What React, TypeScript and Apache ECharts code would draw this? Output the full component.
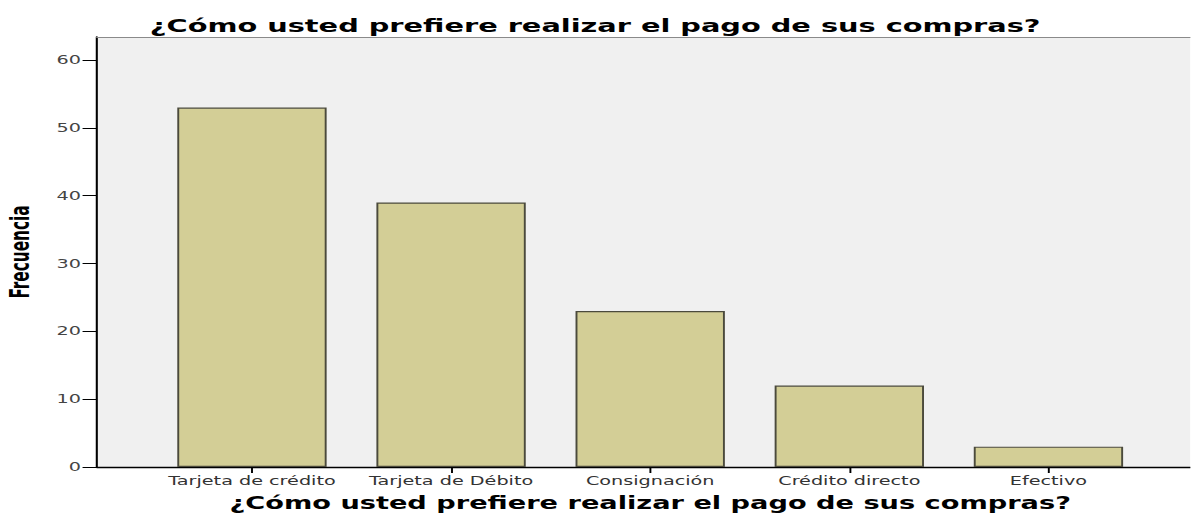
import React, { useEffect, useRef } from "react";
import * as echarts from "echarts";

const categories = ["Tarjeta de crédito", "Tarjeta de Débito", "Consignación", "Crédito directo", "Efectivo"];
const frequencies = [53, 39, 23, 12, 3];
const yTicks = [0, 10, 20, 30, 40, 50, 60];
const titleText = "¿Cómo usted prefiere realizar el pago de sus compras?";
const yName = "Frecuencia";

const STRETCH = 1.6;
const W = 1191 / STRETCH;
const H = 516;

export default function App() {
  const ref = useRef<HTMLDivElement>(null);
  useEffect(() => {
    if (!ref.current) return;
    const chart = echarts.init(ref.current, undefined, { renderer: "svg" });
    const yMax = 63.4;
    chart.setOption({
      animation: false,
      backgroundColor: "#ffffff",
      title: {
        text: titleText,
        left: "center",
        top: 12,
        textStyle: { fontFamily: "DejaVu Sans", fontSize: 18, fontWeight: "bold", color: "#000" },
      },
      grid: [
        { left: 60.6, right: 0, top: 37, bottom: 49, show: true, backgroundColor: "#f0f0f0", borderWidth: 0, outerBoundsMode: "none", containLabel: false },
        { left: 95.25, right: 26.5, top: 37, bottom: 49, outerBoundsMode: "none", containLabel: false },
      ],
      xAxis: [
        {
          gridIndex: 0, type: "value", min: 0, max: 1, position: "bottom",
          axisLine: { show: true, lineStyle: { color: "#000", width: 1.3 } },
          axisTick: { show: false }, axisLabel: { show: false }, splitLine: { show: false },
        },
        {
          gridIndex: 0, type: "value", min: 0, max: 1, position: "top",
          axisLine: { show: true, lineStyle: { color: "#8a8a8a", width: 1.2 } },
          axisTick: { show: false }, axisLabel: { show: false }, splitLine: { show: false },
        },
        {
          gridIndex: 1, type: "category", data: categories, position: "bottom",
          axisLine: { show: false },
          axisTick: { show: true, alignWithLabel: true, length: 6, lineStyle: { color: "#000", width: 1.2 } },
          axisLabel: { interval: 0, hideOverlap: false, margin: 8, fontSize: 12, fontFamily: "DejaVu Sans", color: "#333" },
          name: titleText, nameLocation: "middle", nameGap: 28,
          nameTextStyle: { fontFamily: "DejaVu Sans", fontSize: 17, fontWeight: "bold", color: "#000" },
        },
      ],
      yAxis: [
        {
          gridIndex: 0, type: "value", min: 0, max: yMax, interval: 10,
          axisLine: { show: true, lineStyle: { color: "#000", width: 1.3 } },
          axisTick: { show: true, length: 9, customValues: yTicks, lineStyle: { color: "#000", width: 1 } },
          axisLabel: { margin: 10, customValues: yTicks, fontSize: 12, fontFamily: "DejaVu Sans", color: "#444" },
          splitLine: { show: false },
          name: yName, nameLocation: "middle", nameGap: 40,
          nameTextStyle: { fontFamily: "Liberation Sans Narrow, DejaVu Sans Condensed", fontSize: 17, fontWeight: "bold", color: "#000" },
        },
        { gridIndex: 1, type: "value", min: 0, max: yMax, show: false, splitLine: { show: false } },
      ],
      series: [
        {
          type: "bar", xAxisIndex: 2, yAxisIndex: 1, data: frequencies, barWidth: "75%",
          itemStyle: { color: "#d3ce96", borderColor: "#4b4a3c", borderWidth: 1.2 },
        },
      ],
    });
    return () => chart.dispose();
  }, []);
  return (
    <div
      ref={ref}
      style={{
        position: "absolute", left: 0, top: 0, width: W + "px", height: H + "px",
        transform: `scaleX(${STRETCH})`, transformOrigin: "0 0",
      }}
    />
  );
}
